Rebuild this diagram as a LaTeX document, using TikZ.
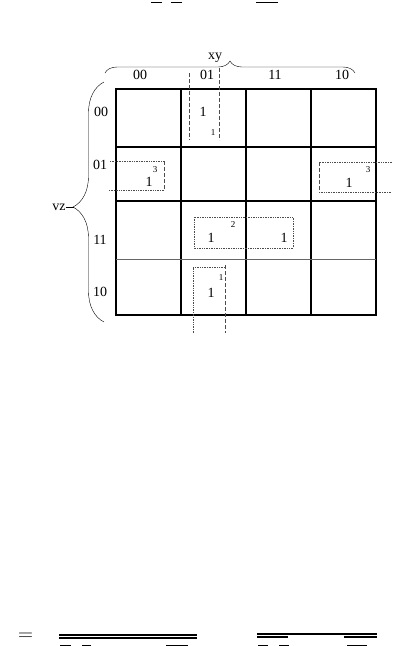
\documentclass[tikz,border=0pt]{standalone}
\usepackage{fontspec}
\setmainfont{Liberation Serif}
\usetikzlibrary{decorations.pathreplacing}

\tikzset{
  kgrid/.style={line width=1.6pt},
  kthin/.style={line width=0.9pt, black!60},
  grp/.style={densely dotted, line width=0.7pt, black!70},
  vdash/.style={dash pattern=on 4pt off 2pt, line width=0.6pt, black!70},
  lbl/.style={font=\fontsize{14}{14}\selectfont, inner sep=0pt},
  sup/.style={font=\fontsize{9}{9}\selectfont, inner sep=0pt},
  bar/.style={line width=1.1pt},
}

\begin{document}
\begin{tikzpicture}[x=1pt,y=-1pt]
\useasboundingbox (0,0) rectangle (400,646);

% cut-off bars of the formula above
\draw[bar] (151,2.5) -- (162,2.5);
\draw[bar] (171,2.5) -- (182,2.5);
\draw[bar] (256,2.5) -- (278,2.5);

% map grid
\draw[kgrid] (116,89) rectangle (376,315);
\foreach \x in {181,246,311}
  \draw[kgrid] (\x,89) -- (\x,315);
\draw[kgrid] (116,147) -- (376,147);
\draw[kgrid] (116,201) -- (376,201);
\draw[kthin] (116,259) -- (376,259);

% column labels
\node[lbl] (xy) at (215,58) {xy};
\node[lbl] (c00) at (140,75) {00};
\node[lbl] (c01) at (207,75) {01};
\node[lbl] (c11) at (275,75) {11};
\node[lbl] (c10) at (342,75) {10};
\draw[decorate, decoration={brace, amplitude=12pt, aspect=0.5}] (105,73) -- (355,73);

% row labels
\node[lbl] (r00) at (101,112) {00};
\node[lbl] (r01) at (100,165) {01};
\node[lbl] (r11) at (100,240) {11};
\node[lbl] (r10) at (100,292) {10};
\node[lbl] (vz) at (59,207) {vz};
\coordinate (vztip) at (74,207);
\draw[decorate, decoration={brace, amplitude=31pt, aspect=0.479}] (104,322) -- (104,82);
\draw (vz.east) -- (vztip);

% the ones
\node[lbl] (one1) at (203,112) {1};
\node[sup] (s1) at (213,133) {1};
\node[lbl] (one2) at (149,182) {1};
\node[sup] (s2) at (155,170) {3};
\node[lbl] (one3) at (349,183) {1};
\node[sup] (s3) at (368,170) {3};
\node[lbl] (one4) at (211,238) {1};
\node[sup] (s4) at (233,225) {2};
\node[lbl] (one5) at (284,238) {1};
\node[lbl] (one6) at (211,293) {1};
\node[sup] (s6) at (221,278) {1};

% groups
\draw[vdash] (189,73) -- (189,140);
\draw[vdash] (219,68) -- (219,140);
\draw[grp] (110,161) -- (164,161);
\draw[vdash] (164,161) -- (164,190);
\draw[grp] (164,190) -- (108,190);
\draw[grp] (392,162) -- (319,162);
\draw[vdash] (319,162) -- (319,192);
\draw[grp] (319,192) -- (392,192);
\draw[grp] (194,217) rectangle (293,248);
\draw[grp] (193,333) -- (193,267) -- (225,267);
\draw[vdash] (225,265) -- (225,333);

% cut-off formula below
\node[font=\fontsize{20}{20}\selectfont, inner sep=0pt] (eq) at (25.5,636.5) {$=$};
\draw[bar] (59,635) -- (197,635);
\draw[bar] (59,638) -- (197,638);
\draw[bar] (60,645.5) -- (71,645.5);
\draw[bar] (82,645.5) -- (91,645.5);
\draw[bar] (166,645.5) -- (188,645.5);
\draw[bar] (257,634) -- (377,634);
\draw[bar] (257,637) -- (288,637);
\draw[bar] (344,637) -- (377,637);
\draw[bar] (258,645.5) -- (268,645.5);
\draw[bar] (279,645.5) -- (289,645.5);
\draw[bar] (347,645.5) -- (367,645.5);
\end{tikzpicture}
\end{document}
